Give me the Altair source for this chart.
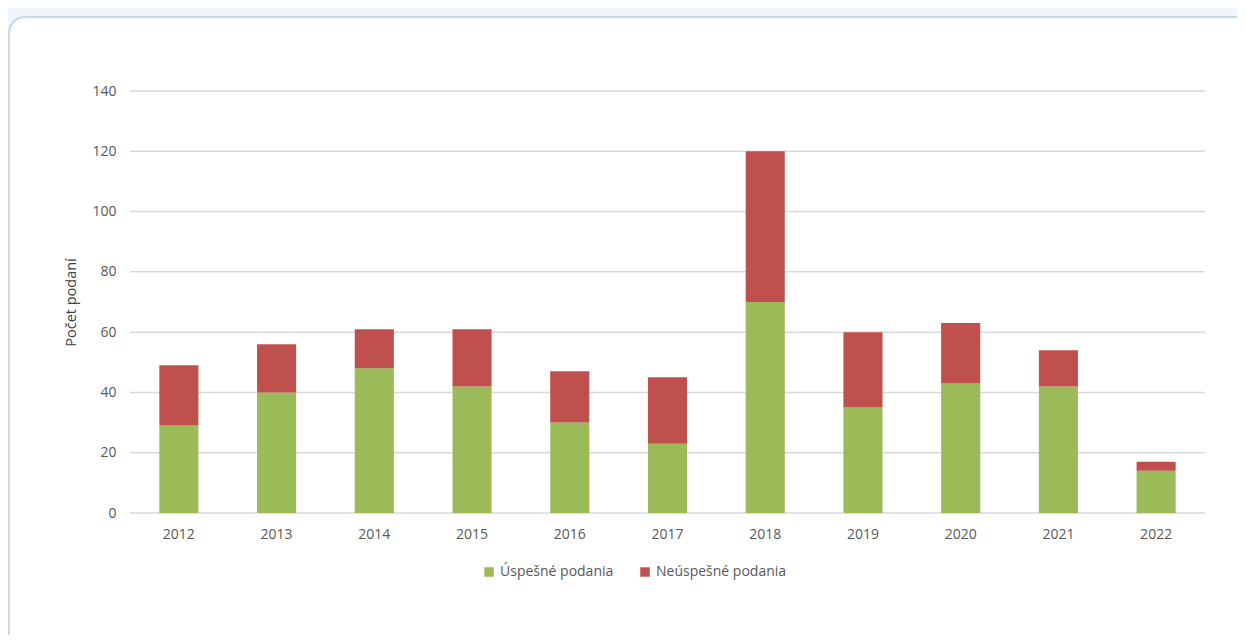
import altair as alt
import pandas as pd

years = ["2012", "2013", "2014", "2015", "2016", "2017", "2018", "2019", "2020", "2021", "2022"]
uspesne = [29, 40, 48, 42, 30, 23, 70, 35, 43, 42, 14]
neuspesne = [20, 16, 13, 19, 17, 22, 50, 25, 20, 12, 3]
series = ["Úspešné podania", "Neúspešné podania"]
colors = ["#9bbb59", "#c0504d"]
y_ticks = [0, 20, 40, 60, 80, 100, 120, 140]

rows = []
for i, y in enumerate(years):
    rows.append({"rok": y, "seria": series[0], "pocet": uspesne[i], "ord": 0})
    rows.append({"rok": y, "seria": series[1], "pocet": neuspesne[i], "ord": 1})
df = pd.DataFrame(rows)

W, H = 1075, 422
FONT = "Open Sans"
yscale = alt.Scale(domain=[0, 140])

def yaxis():
    return alt.Axis(title="Počet podaní", values=y_ticks,
                    ticks=False, domain=False, grid=False, zindex=1,
                    labelPadding=14, labelColor="#595959",
                    labelFontSize=14, labelFont=FONT, titleFont=FONT,
                    titleFontSize=14.5, titleFontWeight="normal", titleColor="#404040",
                    titlePadding=13)

card = alt.Chart(pd.DataFrame({"a": [0]})).mark_rect(
    fill="white", stroke="#c4d8e8", strokeWidth=2, cornerRadius=16
).encode(
    x=alt.value(-121), x2=alt.value(1300),
    y=alt.value(-74), y2=alt.value(700)
)

grid = alt.Chart(pd.DataFrame({"v": y_ticks})).mark_rule(
    color="#d9d9d9", strokeWidth=1.5
).encode(
    y=alt.Y("v:Q", scale=yscale, axis=yaxis(), title="Počet podaní")
)

bars = alt.Chart(df).mark_bar().encode(
    x=alt.X("rok:N", sort=years,
            scale=alt.Scale(paddingInner=0.6, paddingOuter=0.3),
            axis=alt.Axis(title=None, labelAngle=0, labelPadding=14, ticks=False,
                          domain=False, zindex=1,
                          labelColor="#595959", labelFontSize=14, labelFont=FONT)),
    y=alt.Y("pocet:Q", stack="zero", scale=yscale, axis=yaxis(), title="Počet podaní"),
    color=alt.Color("seria:N", scale=alt.Scale(domain=series, range=colors),
                    legend=alt.Legend(title=None, orient="none", direction="horizontal",
                                      legendX=352, legendY=474, symbolType="square",
                                      symbolSize=90, symbolStrokeWidth=0,
                                      labelFont=FONT, labelFontSize=14,
                                      labelColor="#595959", columnPadding=24,
                                      symbolOffset=0, labelOffset=4)),
    order=alt.Order("ord:Q", sort="ascending"),
)

chart = alt.layer(card, grid, bars).properties(
    width=W, height=H,
    autosize=alt.AutoSizeParams(type="none"),
    padding={"left": 122, "top": 83, "right": 32, "bottom": 122},
    background="#f1f6fa",
).configure_view(stroke=None)

chart.save("out.html", embed_options={"renderer": "svg", "actions": False})
